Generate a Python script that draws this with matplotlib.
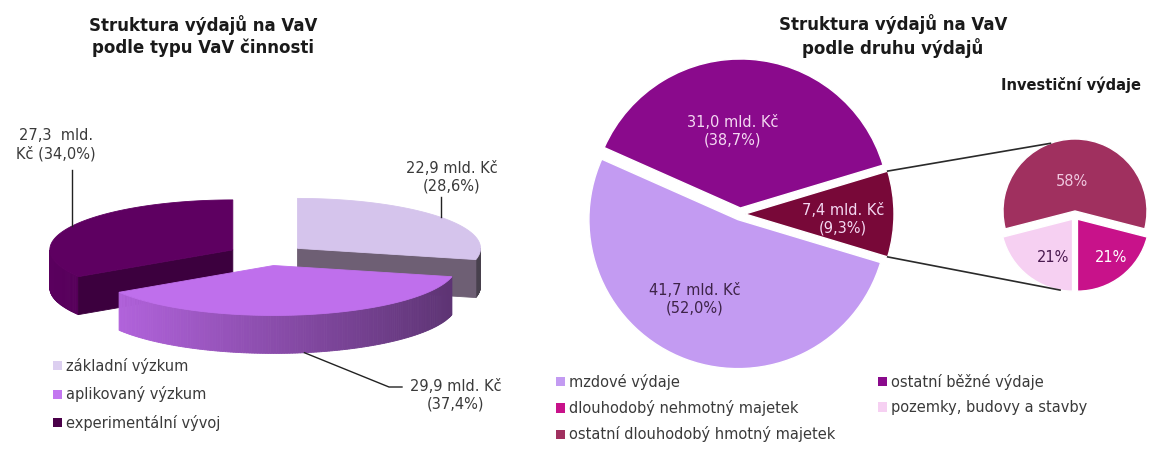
import numpy as np
import matplotlib.pyplot as plt
import matplotlib.colors as mcolors
from matplotlib.patches import Polygon, Patch

plt.rcParams['font.family'] = ['DejaVu Sans']

W, H = 1151, 455

# VaV by type of activity (left, 3D pie)
typ_labels = ['základní výzkum', 'aplikovaný výzkum', 'experimentální vývoj']
typ_mld = [22.9, 29.9, 27.3]
typ_pct = [28.6, 37.4, 34.0]
typ_top = ['#d5c4ec', '#bf6fec', '#5e0061']
typ_wall = ['#8e7f98', '#b866e4', '#5a005e']
typ_cut = ['#6e5f74', '#6e3a80', '#3c003e']
typ_key = ['#dccff0', '#c377f0', '#4a0049']

# VaV by kind of expenditure (right, pie of pie)
druh_labels = ['mzdové výdaje', 'ostatní běžné výdaje', 'investiční výdaje']
druh_mld = [41.7, 31.0, 7.4]
druh_pct = [52.0, 38.7, 9.3]
druh_colors = ['#c39bf2', '#8a0a8c', '#780838']

inv_labels = ['ostatní dlouhodobý hmotný majetek', 'dlouhodobý nehmotný majetek',
              'pozemky, budovy a stavby']
inv_pct = [58, 21, 21]
inv_colors = ['#a0305f', '#c8128a', '#f6d0f2']


def cz(v):
    return f'{v:.1f}'.replace('.', ',')


fig = plt.figure(figsize=(W / 100, H / 100), dpi=100)
ax = fig.add_axes([0, 0, 1, 1])

txt = '#3a3a3a'
lab_fs = 10.5

# ---- left: 3D pie --------------------------------------------------------
cx, cy = 267, H - 255
R, tilt, expl, depth = 183, 0.273, 39, 38
down = np.array([0, depth])


def rim(c, th):
    th = np.atleast_1d(th)
    return np.column_stack([c[0] + R * np.sin(th), c[1] + R * tilt * np.cos(th)])


def shade(col, k):
    return tuple(np.array(mcolors.to_rgb(col)) * (1 - k))


bounds = np.concatenate([[0], np.cumsum(typ_pct)]) / 100 * 2 * np.pi
centres = {}
mids = {}
for i in [2, 0, 1]:  # back slices first, the front one last
    t1, t2 = bounds[i], bounds[i + 1]
    tm = (t1 + t2) / 2
    c = np.array([cx + expl * np.sin(tm), cy + expl * tilt * np.cos(tm)])
    centres[i], mids[i] = c, tm
    th = np.linspace(t1, t2, 160)
    # outer wall, only the half facing us
    front = th[np.cos(th) < 0]
    for a, b in zip(front[:-1], front[1:]):
        p = rim(c, [a, b])
        quad = np.vstack([p, p[::-1] - down])
        k = 0.5 * (1 + np.sin((a + b) / 2)) / 2
        col = shade(typ_wall[i], k)
        ax.add_patch(Polygon(quad, closed=True, fc=col, ec=col, lw=0.6))
    # radial cut faces turned toward the viewer
    for edge, vis in [(t1, np.sin(t1) < -1e-6), (t2, np.sin(t2) > 1e-6)]:
        if vis:
            p = rim(c, edge)[0]
            quad = np.array([c, p, p - down, c - down])
            ax.add_patch(Polygon(quad, closed=True, fc=typ_cut[i], ec=typ_cut[i], lw=0.6))
    top = np.vstack([c, rim(c, th)])
    ax.add_patch(Polygon(top, closed=True, fc=typ_top[i], ec=typ_top[i], lw=0.6))

# labels with leader lines
p = rim(centres[2], mids[2])[0]
ax.plot([p[0], p[0]], [H - 170, p[1]], color='#222222', lw=1)
ax.text(56, H - 145, f'{cz(typ_mld[2])}  mld.\nKč ({cz(typ_pct[2])}%)',
        ha='center', va='center', fontsize=lab_fs, color=txt, linespacing=1.2)

p = rim(centres[0], mids[0])[0]
ax.plot([p[0], p[0]], [H - 197, p[1]], color='#222222', lw=1)
ax.text(452, H - 177, f'{cz(typ_mld[0])} mld. Kč\n({cz(typ_pct[0])}%)',
        ha='center', va='center', fontsize=lab_fs, color=txt, linespacing=1.2)

p = rim(centres[1], mids[1])[0] - down
ax.plot([p[0], 389, 402], [p[1], H - 387, H - 387], color='#222222', lw=1)
ax.text(456, H - 395, f'{cz(typ_mld[1])} mld. Kč\n({cz(typ_pct[1])}%)',
        ha='center', va='center', fontsize=lab_fs, color=txt, linespacing=1.2)

ax.text(203, H - 36, 'Struktura výdajů na VaV\npodle typu VaV činnosti',
        ha='center', va='center', fontsize=12, fontweight='bold',
        color='#1a1a1a', linespacing=1.3)

leg_kw = dict(loc='upper left', bbox_transform=ax.transData, frameon=False,
              fontsize=lab_fs, handlelength=0.6, handleheight=0.6, handletextpad=0.3,
              borderpad=0, borderaxespad=0, labelcolor=txt)
leg1 = ax.legend([Patch(fc=c, ec='none') for c in typ_key], typ_labels,
                 bbox_to_anchor=(53, H - 358), labelspacing=0.85, **leg_kw)
ax.add_artist(leg1)

# ---- right: pie of pie ---------------------------------------------------
main_c = (740, H - 214)
main_r = 149
order = [2, 0, 1]  # investment slice centred at three o'clock
ax.pie([druh_pct[j] for j in order], colors=[druh_colors[j] for j in order],
       startangle=druh_pct[2] / 100 * 180, counterclock=False,
       radius=main_r, center=main_c, explode=[5, 6, 6],
       wedgeprops=dict(ec='white', lw=1.0), frame=True)

sub_c = (1075, H - 216)
sub_r = 72
sub_start = 90 + inv_pct[0] / 100 * 180
sub_expl = [5, 4, 4]
ax.pie(inv_pct, colors=inv_colors, startangle=sub_start, counterclock=False,
       radius=sub_r, center=sub_c, explode=sub_expl,
       wedgeprops=dict(ec='white', lw=1.0), frame=True)

# connector lines between the investment slice and the breakdown pie
half = np.deg2rad(druh_pct[2] / 100 * 180)
inv_c = (main_c[0] + 5, main_c[1])
corner_hi = (inv_c[0] + main_r * np.cos(half), inv_c[1] + main_r * np.sin(half))
corner_lo = (inv_c[0] + main_r * np.cos(half), inv_c[1] - main_r * np.sin(half))
top_c = (sub_c[0], sub_c[1] + sub_expl[0])
mid_pink = np.deg2rad(sub_start - 360 * (inv_pct[0] + inv_pct[1] + inv_pct[2] / 2) / 100)
pink_c = (sub_c[0] + sub_expl[2] * np.cos(mid_pink), sub_c[1] + sub_expl[2] * np.sin(mid_pink))
end_hi = (top_c[0] + sub_r * np.cos(np.deg2rad(110)), top_c[1] + sub_r * np.sin(np.deg2rad(110)))
end_lo = (pink_c[0] + sub_r * np.cos(np.deg2rad(-100)), pink_c[1] + sub_r * np.sin(np.deg2rad(-100)))
ax.plot([corner_hi[0], end_hi[0]], [corner_hi[1], end_hi[1]], color='#2a2a2a', lw=1.2)
ax.plot([corner_lo[0], end_lo[0]], [corner_lo[1], end_lo[1]], color='#2a2a2a', lw=1.2)

light = '#f4d8f2'
ax.text(733, H - 131, f'{cz(druh_mld[1])} mld. Kč\n({cz(druh_pct[1])}%)',
        ha='center', va='center', fontsize=lab_fs, color=light, linespacing=1.2)
ax.text(695, H - 299, f'{cz(druh_mld[0])} mld. Kč\n({cz(druh_pct[0])}%)',
        ha='center', va='center', fontsize=lab_fs, color='#3d2347', linespacing=1.2)
ax.text(843, H - 219, f'{cz(druh_mld[2])} mld. Kč\n({cz(druh_pct[2])}%)',
        ha='center', va='center', fontsize=lab_fs, color=light, linespacing=1.2)

ax.text(1072, H - 182, f'{inv_pct[0]}%', ha='center', va='center',
        fontsize=lab_fs, color='#f0c8e0')
ax.text(1111, H - 257, f'{inv_pct[1]}%', ha='center', va='center',
        fontsize=lab_fs, color='white')
ax.text(1053, H - 257, f'{inv_pct[2]}%', ha='center', va='center',
        fontsize=lab_fs, color='#4a1a50')

ax.text(893, H - 36, 'Struktura výdajů na VaV\npodle druhu výdajů',
        ha='center', va='center', fontsize=12, fontweight='bold',
        color='#1a1a1a', linespacing=1.3)
ax.text(1071, H - 85, 'Investiční výdaje', ha='center', va='center',
        fontsize=10.5, fontweight='bold', color='#1a1a1a')

leg2 = ax.legend([Patch(fc=druh_colors[0]), Patch(fc=inv_colors[1]), Patch(fc=inv_colors[0])],
                 [druh_labels[0], inv_labels[1], inv_labels[0]],
                 bbox_to_anchor=(556, H - 374), labelspacing=0.7, **leg_kw)
ax.add_artist(leg2)
ax.legend([Patch(fc=druh_colors[1]), Patch(fc=inv_colors[2])],
          [druh_labels[1], inv_labels[2]],
          bbox_to_anchor=(878, H - 374), labelspacing=0.7, **leg_kw)

ax.set_xlim(0, W)
ax.set_ylim(0, H)
ax.axis('off')

fig.savefig('out.png', dpi=100, facecolor='white')
